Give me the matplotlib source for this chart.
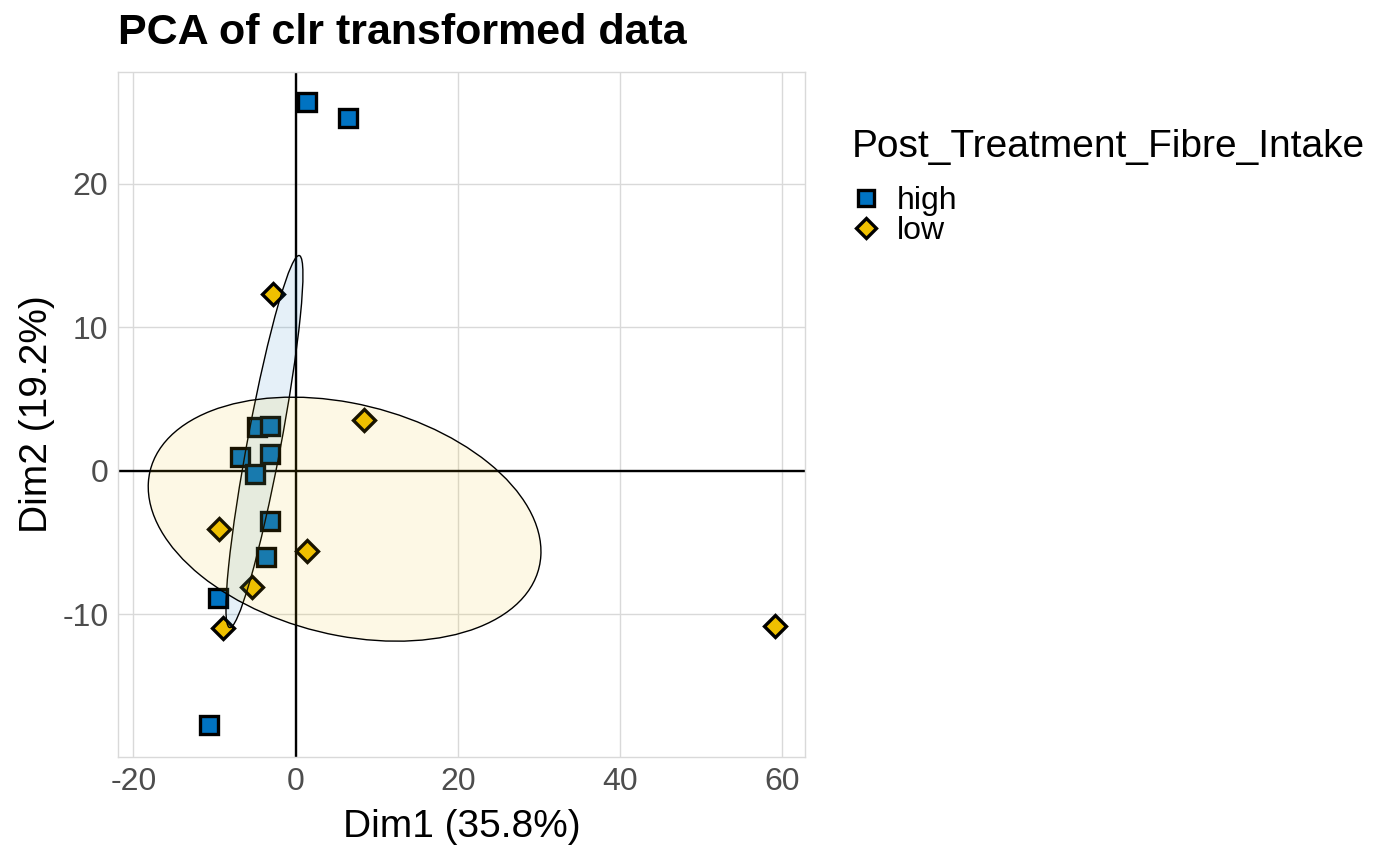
import numpy as np
import matplotlib.pyplot as plt
from matplotlib.patches import Ellipse
from matplotlib.lines import Line2D

plt.rcParams['font.family'] = ['Liberation Sans', 'DejaVu Sans']
plt.rcParams['axes.unicode_minus'] = False

# PCA individual coordinates
high_x = [1.36, 6.4, -4.8, -3.1, -6.9, -3.2, -5.06, -3.1, -3.6, -9.6, -10.7]
high_y = [25.7, 24.6, 3.07, 3.14, 0.98, 1.19, -0.2, -3.5, -6.0, -8.9, -17.7]
low_x = [-2.8, 8.4, -9.5, 1.36, -5.4, -8.9, 59.1]
low_y = [12.3, 3.56, -4.05, -5.6, -8.1, -10.96, -10.8]

groups = ['high', 'low']
colors = {'high': '#0073C2', 'low': '#EFC000'}
markers = {'high': 's', 'low': 'D'}
msize = {'high': 12.5, 'low': 11.5}
xticks = [-20, 0, 20, 40, 60]
yticks = [-10, 0, 10, 20]


def cov_ellipse(x, y, color, k=1.0):
    x = np.asarray(x)
    y = np.asarray(y)
    cov = np.cov(x, y)
    vals, vecs = np.linalg.eigh(cov)
    order = vals.argsort()[::-1]
    vals, vecs = vals[order], vecs[:, order]
    angle = np.degrees(np.arctan2(vecs[1, 0], vecs[0, 0]))
    w, h = 2 * k * np.sqrt(vals)
    fill = Ellipse((x.mean(), y.mean()), w, h, angle=angle,
                   facecolor=color, alpha=0.1, edgecolor='none', zorder=4)
    edge = Ellipse((x.mean(), y.mean()), w, h, angle=angle,
                   facecolor='none', edgecolor='black', linewidth=1.0, zorder=4)
    return fill, edge


fig = plt.figure(figsize=(14, 8.6), dpi=100)
ax = fig.add_axes([118 / 1400, 1 - 757 / 860, (805 - 118) / 1400, (757 - 72) / 860])

data = {'high': (high_x, high_y), 'low': (low_x, low_y)}
for g in groups:
    gx, gy = data[g]
    ax.plot(gx, gy, linestyle='none', marker=markers[g], markersize=msize[g],
            markerfacecolor=colors[g], markeredgecolor='black',
            markeredgewidth=2.4, zorder=3)
    for patch in cov_ellipse(gx, gy, colors[g]):
        ax.add_patch(patch)

ax.axhline(0, color='black', linewidth=1.7, zorder=2)
ax.axvline(0, color='black', linewidth=1.7, zorder=2)

ax.set_xlim(-21.9, 62.8)
ax.set_ylim(-19.96, 27.8)
ax.set_xticks(xticks)
ax.set_yticks(yticks)
ax.grid(True, color='#D9D9D9', linewidth=1.0, zorder=0)
ax.set_axisbelow(True)
for s in ax.spines.values():
    s.set_color('#D9D9D9')
    s.set_linewidth(1.0)
ax.tick_params(length=0, labelsize=23, labelcolor='#4D4D4D', pad=7)

ax.set_xlabel('Dim1 (35.8%)', fontsize=28, labelpad=9)
ax.set_ylabel('Dim2 (19.2%)', fontsize=28, labelpad=5)
fig.text(118 / 1400, 1 - 33 / 860, 'PCA of clr transformed data', fontsize=31,
         fontweight='bold', va='center', ha='left')

handles = [Line2D([], [], linestyle='none', marker=markers[g], markersize=msize[g] - 1.5,
                  markerfacecolor=colors[g], markeredgecolor='black',
                  markeredgewidth=2.4, label=g) for g in groups]
leg = fig.legend(handles=handles, title='Post_Treatment_Fibre_Intake',
                 loc='upper left', bbox_to_anchor=(852 / 1400, 1 - 129 / 860),
                 frameon=False, fontsize=23, title_fontsize=28,
                 handletextpad=0.5, labelspacing=0.0, borderaxespad=0,
                 handlelength=0.9, borderpad=0)
leg._legend_box.align = 'left'
leg._legend_box.sep = 15

fig.savefig('out.png', dpi=100)
